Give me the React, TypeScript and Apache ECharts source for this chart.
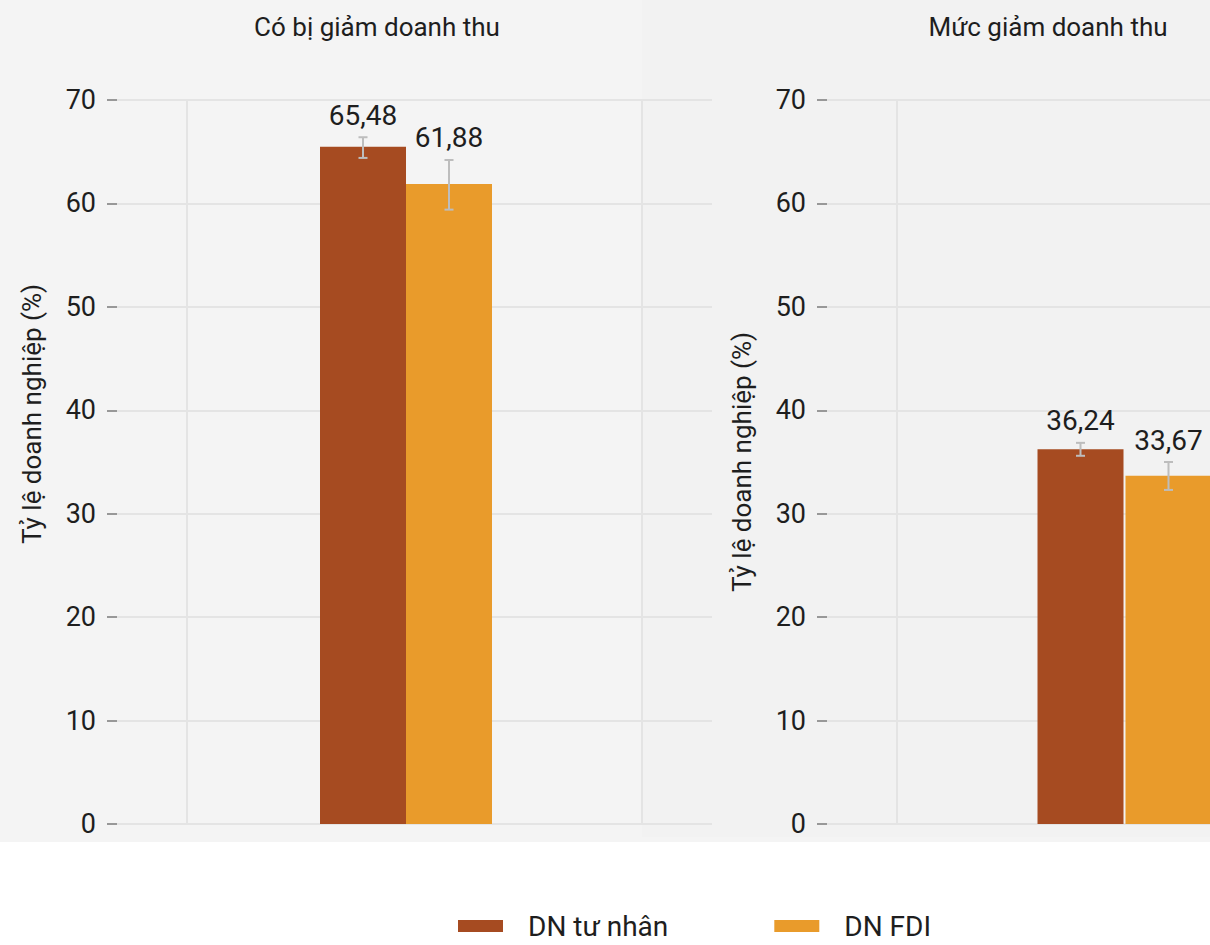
import React, { useEffect, useRef } from "react";
import * as echarts from "echarts";

// ---- data ----
const SERIES_NAMES = ["DN tư nhân", "DN FDI"];
const PANEL_TITLES = ["Có bị giảm doanh thu", "Mức giảm doanh thu"];
const CATEGORY = ["Doanh nghiệp"];
const Y_NAME = "Tỷ lệ doanh nghiệp (%)";
const Y_MIN = 0;
const Y_MAX = 70;
const Y_INTERVAL = 10;

const PANEL1_VALUES = [65.48, 61.88];
const PANEL1_LOW = [64.4, 59.4];
const PANEL1_HIGH = [66.4, 64.2];

const PANEL2_VALUES = [36.24, 33.67];
const PANEL2_LOW = [35.6, 32.3];
const PANEL2_HIGH = [36.85, 35.0];

const X_GRID_VALUES = [-0.5, 0.5];

// ---- style ----
const COLORS = ["#A64B21", "#E99B2B"];
const FONT = "Roboto, 'Liberation Sans', sans-serif";
const TEXT = "#1e1e1e";
const GRID_LINE = "#e4e4e4";
const BAR_W = 86;

const fmt = (v: number) => v.toFixed(2).replace(".", ",");

function valueAxisY(gridIndex: number, namePad: number[]) {
  return {
    type: "value",
    gridIndex,
    min: Y_MIN,
    max: Y_MAX,
    interval: Y_INTERVAL,
    axisLine: { show: false, onZero: false },
    axisTick: { show: true, length: 10, lineStyle: { color: "#7a7a7a", width: 1.5 } },
    axisLabel: { margin: 21, fontSize: 27, color: TEXT, fontFamily: FONT },
    splitLine: { show: true, lineStyle: { color: GRID_LINE, width: 2 } },
    name: Y_NAME,
    nameLocation: "middle",
    nameGap: 72,
    nameRotate: 90,
    nameTextStyle: { fontSize: 26, color: TEXT, fontFamily: FONT, padding: namePad },
  };
}

function gridXAxis(gridIndex: number) {
  return {
    type: "value",
    gridIndex,
    min: -0.654,
    max: 0.654,
    axisLine: { show: false, onZero: false },
    axisLabel: { show: false },
    axisTick: { show: false, customValues: X_GRID_VALUES },
    splitLine: { show: true, lineStyle: { color: GRID_LINE, width: 2 } },
  };
}

function errorSeries(xAxisIndex: number, yAxisIndex: number, low: number[], high: number[], values: number[], gap: number) {
  return {
    type: "custom",
    xAxisIndex,
    yAxisIndex,
    z: 5,
    clip: false,
    silent: true,
    data: values.map((v, i) => [i, v]),
    renderItem: (params: any, api: any) => {
      const i = params.dataIndex;
      const top = api.coord([CATEGORY[0], high[i]]);
      const bot = api.coord([CATEGORY[0], low[i]]);
      const off = ((i === 0 ? -1 : 1) * (BAR_W + gap)) / 2;
      const x = top[0] + off;
      const stroke = { stroke: "#bdbdbd", lineWidth: 2 };
      return {
        type: "group",
        children: [
          { type: "line", shape: { x1: x, y1: top[1], x2: x, y2: bot[1] }, style: stroke },
          { type: "line", shape: { x1: x - 4.5, y1: top[1], x2: x + 4.5, y2: top[1] }, style: stroke },
          { type: "line", shape: { x1: x - 4.5, y1: bot[1], x2: x + 4.5, y2: bot[1] }, style: stroke },
          {
            type: "text",
            x,
            y: top[1] - 22,
            style: {
              text: fmt(values[i]),
              align: "center",
              verticalAlign: "middle",
              fontSize: 28,
              fontFamily: FONT,
              fill: TEXT,
            },
          },
        ],
      };
    },
  };
}

export default function App() {
  const ref = useRef<HTMLDivElement>(null);

  useEffect(() => {
    document.body.style.margin = "0";
    if (!ref.current) return;
    const chart = echarts.init(ref.current, null, { renderer: "svg" });
    const titleStyle = { fontSize: 26, fontWeight: "normal", color: TEXT, fontFamily: FONT };
    const option: any = {
      animation: false,
      backgroundColor: "#ffffff",
      graphic: [
        { type: "rect", z: -10, shape: { x: 0, y: 0, width: 1210, height: 842 }, style: { fill: "#f4f4f4" } },
        { type: "rect", z: -9, shape: { x: 642, y: 0, width: 568, height: 837 }, style: { fill: "#f2f2f2" } },
      ],
      title: [
        { text: PANEL_TITLES[0], left: 377, top: 14, textAlign: "center", padding: 0, textStyle: titleStyle },
        { text: PANEL_TITLES[1], left: 1048, top: 14, textAlign: "center", padding: 0, textStyle: titleStyle },
      ],
      legend: {
        data: SERIES_NAMES,
        left: 458,
        top: 912,
        padding: 0,
        icon: "rect",
        itemWidth: 45,
        itemHeight: 12,
        itemGap: 106,
        itemStyle: { borderWidth: 0 },
        textStyle: { fontSize: 28, color: TEXT, fontFamily: FONT, padding: [0, 0, 0, 20] },
      },
      grid: [
        { left: 117, width: 595, top: 100, bottom: 121, outerBoundsMode: "none" },
        { left: 117, width: 578, top: 100, bottom: 121, outerBoundsMode: "none" },
        { left: 827, width: 595, top: 100, bottom: 121, outerBoundsMode: "none" },
      ],
      xAxis: [
        gridXAxis(0),
        { type: "category", gridIndex: 1, data: CATEGORY, show: false },
        gridXAxis(2),
        { type: "category", gridIndex: 2, data: CATEGORY, show: false },
      ],
      yAxis: [
        valueAxisY(0, [0, 0, 0, 96]),
        { type: "value", gridIndex: 1, min: Y_MIN, max: Y_MAX, interval: Y_INTERVAL, show: false, splitLine: { show: false } },
        valueAxisY(2, [0, 0, 0, 0]),
      ],
      series: [
        { name: SERIES_NAMES[0], type: "bar", xAxisIndex: 1, yAxisIndex: 1, data: [PANEL1_VALUES[0]], barWidth: BAR_W, barGap: "0%", itemStyle: { color: COLORS[0] } },
        { name: SERIES_NAMES[1], type: "bar", xAxisIndex: 1, yAxisIndex: 1, data: [PANEL1_VALUES[1]], barWidth: BAR_W, barGap: "0%", itemStyle: { color: COLORS[1] } },
        { name: SERIES_NAMES[0], type: "bar", xAxisIndex: 3, yAxisIndex: 2, data: [PANEL2_VALUES[0]], barWidth: BAR_W, barGap: "2.3%", itemStyle: { color: COLORS[0] } },
        { name: SERIES_NAMES[1], type: "bar", xAxisIndex: 3, yAxisIndex: 2, data: [PANEL2_VALUES[1]], barWidth: BAR_W, barGap: "2.3%", itemStyle: { color: COLORS[1] } },
        errorSeries(1, 1, PANEL1_LOW, PANEL1_HIGH, PANEL1_VALUES, 0),
        errorSeries(3, 2, PANEL2_LOW, PANEL2_HIGH, PANEL2_VALUES, 2),
      ],
    };
    chart.setOption(option);
    return () => chart.dispose();
  }, []);

  return <div ref={ref} style={{ width: 1210, height: 945 }} />;
}
